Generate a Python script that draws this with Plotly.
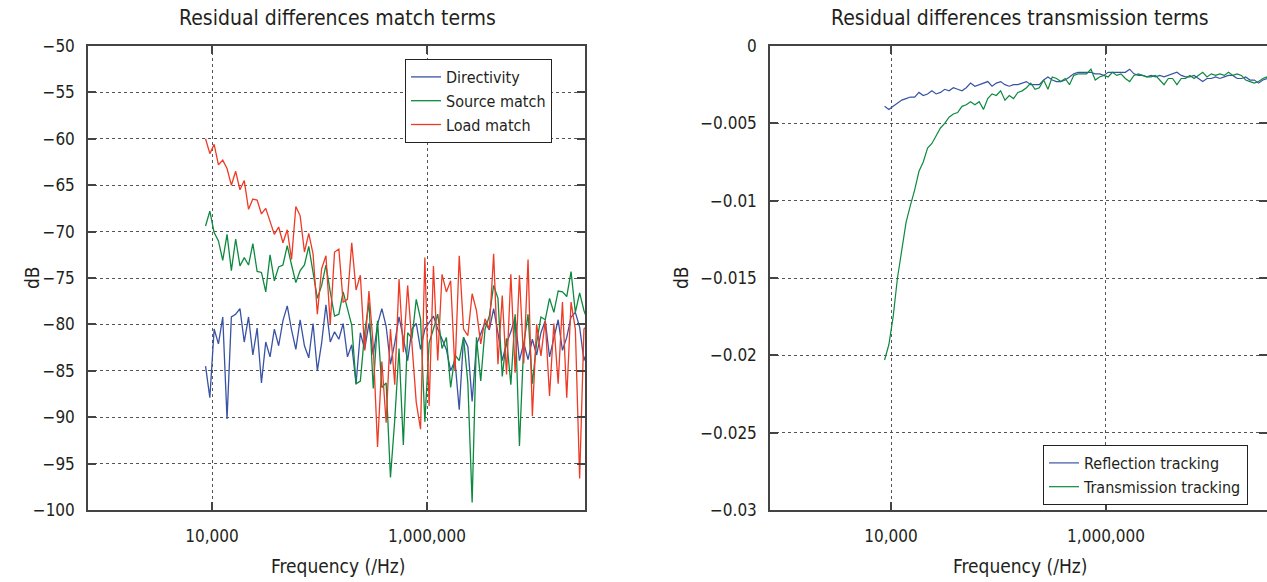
import plotly.graph_objects as go

# Frequencies (Hz), shared by all traces
freq = [8710, 9550, 10470, 11480, 12590, 13800, 15140, 16600, 18200, 19950,
        21880, 23990, 26300, 28840, 31620, 34670, 38020, 41690, 45710, 50120,
        54950, 60260, 66070, 72440, 79430, 87100, 95500, 104700, 114800, 125900,
        138000, 151400, 166000, 182000, 199500, 218800, 239900, 263000, 288400, 316200,
        346700, 380200, 416900, 457100, 501200, 549500, 602600, 660700, 724400, 794300,
        871000, 955000, 1047000, 1148000, 1259000, 1380000, 1514000, 1660000, 1820000, 1995000,
        2188000, 2399000, 2630000, 2884000, 3162000, 3467000, 3802000, 4169000, 4571000, 5012000,
        5495000, 6026000, 6607000, 7244000, 7943000, 8710000, 9550000, 10470000, 11480000, 12590000,
        13800000, 15140000, 16600000, 18200000, 19950000, 21880000, 23990000, 26300000, 28840000, 31620000]

directivity = [-84.5, -87.9, -80.5, -82.1, -79.2, -90.2, -79.2, -78.9, -78.3, -81.9,
               -79.2, -83.3, -80.4, -86.3, -81.9, -83.5, -80.5, -82.3, -79.6, -78.0,
               -80.6, -82.7, -79.5, -82.3, -83.6, -79.9, -85.0, -82.0, -77.9, -81.9,
               -80.8, -81.6, -79.9, -83.5, -82.2, -86.4, -80.9, -82.7, -79.9, -83.3,
               -80.0, -78.3, -80.2, -84.3, -82.0, -79.2, -81.5, -83.9, -80.5, -79.9,
               -82.7, -80.5, -79.8, -79.1, -80.5, -81.5, -82.7, -85.0, -83.9, -89.2,
               -81.4, -82.4, -88.3, -82.2, -81.0, -79.8, -80.6, -78.3, -80.9, -83.9,
               -82.0, -80.8, -79.2, -83.9, -82.0, -83.8, -81.6, -83.3, -80.9, -79.6,
               -83.5, -81.4, -79.5, -82.8, -81.4, -79.2, -78.7, -80.3, -83.9, -82.5]

source_match = [-69.4, -67.8, -70.1, -71.0, -73.1, -70.3, -74.2, -70.8, -73.7, -72.8,
                -73.6, -71.3, -74.3, -74.4, -76.5, -72.5, -75.3, -73.8, -73.6, -71.5,
                -73.6, -75.5, -74.2, -73.6, -71.6, -74.5, -77.2, -75.8, -73.6, -76.5,
                -79.1, -78.9, -76.5, -78.3, -80.1, -86.4, -86.1, -80.9, -77.6, -86.9,
                -79.6, -86.8, -86.3, -96.5, -90.3, -82.6, -93.0, -80.9, -81.5, -77.3,
                -79.4, -90.5, -82.0, -80.5, -78.9, -82.6, -81.4, -86.8, -83.3, -83.9,
                -81.4, -86.3, -99.2, -81.4, -86.1, -80.5, -79.1, -75.8, -77.2, -85.6,
                -81.5, -86.5, -78.9, -93.1, -82.1, -78.9, -86.4, -82.0, -79.2, -79.5,
                -77.2, -78.7, -76.4, -76.5, -77.0, -74.3, -78.7, -76.6, -78.5, -79.8]

load_match = [-60.0, -61.6, -60.6, -62.8, -62.3, -63.2, -65.0, -63.5, -65.5, -64.5,
              -67.6, -66.5, -66.6, -68.1, -67.5, -69.0, -70.3, -69.5, -71.2, -69.8,
              -73.0, -67.3, -68.3, -72.2, -70.2, -72.4, -78.9, -74.0, -72.6, -80.0,
              -72.2, -71.9, -77.6, -77.3, -71.2, -76.3, -74.7, -82.8, -76.4, -82.3,
              -93.2, -84.0, -90.6, -80.5, -86.5, -75.1, -83.0, -75.8, -81.9, -88.4,
              -91.3, -72.8, -88.8, -73.7, -83.9, -74.6, -76.5, -75.3, -85.0, -72.6,
              -80.5, -81.2, -76.7, -78.5, -82.1, -79.4, -80.5, -72.4, -84.3, -76.9,
              -85.4, -74.6, -85.2, -74.7, -84.2, -73.0, -89.9, -80.0, -83.4, -79.6,
              -87.7, -79.9, -86.4, -77.6, -87.9, -77.6, -80.5, -96.6, -80.5, -80.0]

reflection_tracking = [-0.0039, -0.0041, -0.0039, -0.0037, -0.0035, -0.0034, -0.0033, -0.0033, -0.0030, -0.0032,
                       -0.0031, -0.0029, -0.0031, -0.0030, -0.0028, -0.0029, -0.0027, -0.0028, -0.0029, -0.0027,
                       -0.0024, -0.0026, -0.0025, -0.0024, -0.0023, -0.0026, -0.0024, -0.0023, -0.0025, -0.0026,
                       -0.0025, -0.0025, -0.0024, -0.0023, -0.0025, -0.0025, -0.0025, -0.0022, -0.0020, -0.0022,
                       -0.0023, -0.0023, -0.0022, -0.0020, -0.0018, -0.0017, -0.0017, -0.0017, -0.0017, -0.0018,
                       -0.0018, -0.0019, -0.0017, -0.0017, -0.0017, -0.0017, -0.0017, -0.0015, -0.0018, -0.0019,
                       -0.0019, -0.0020, -0.0019, -0.0020, -0.0019, -0.0020, -0.0019, -0.0018, -0.0017, -0.0019,
                       -0.0020, -0.0020, -0.0019, -0.0021, -0.0023, -0.0021, -0.0021, -0.0020, -0.0021, -0.0020,
                       -0.0019, -0.0019, -0.0021, -0.0021, -0.0020, -0.0022, -0.0022, -0.0024, -0.0022, -0.0021]

transmission_tracking = [-0.0203, -0.0193, -0.0175, -0.0150, -0.0132, -0.0114, -0.0103, -0.0093, -0.0081, -0.0075,
                         -0.0066, -0.0063, -0.0058, -0.0053, -0.0050, -0.0046, -0.0044, -0.0043, -0.0039, -0.0038,
                         -0.0036, -0.0038, -0.0036, -0.0041, -0.0034, -0.0031, -0.0032, -0.0029, -0.0035, -0.0032,
                         -0.0034, -0.0030, -0.0029, -0.0027, -0.0024, -0.0028, -0.0027, -0.0022, -0.0028, -0.0020,
                         -0.0021, -0.0023, -0.0021, -0.0025, -0.0019, -0.0018, -0.0018, -0.0018, -0.0015, -0.0022,
                         -0.0020, -0.0019, -0.0020, -0.0017, -0.0019, -0.0018, -0.0021, -0.0023, -0.0019, -0.0018,
                         -0.0019, -0.0020, -0.0020, -0.0019, -0.0022, -0.0025, -0.0021, -0.0021, -0.0025, -0.0021,
                         -0.0021, -0.0019, -0.0021, -0.0019, -0.0017, -0.0020, -0.0018, -0.0019, -0.0018, -0.0019,
                         -0.0017, -0.0019, -0.0018, -0.0019, -0.0022, -0.0023, -0.0024, -0.0023, -0.0021, -0.0020]

left_yticks = [-50, -55, -60, -65, -70, -75, -80, -85, -90, -95, -100]
left_yticktext = ["\u221250", "\u221255", "\u221260", "\u221265", "\u221270", "\u221275",
                  "\u221280", "\u221285", "\u221290", "\u221295", "\u2212100"]
right_yticks = [0, -0.005, -0.01, -0.015, -0.02, -0.025, -0.03]
right_yticktext = ["0", "\u22120.005", "\u22120.01", "\u22120.015", "\u22120.02", "\u22120.025", "\u22120.03"]
xticks = [1e4, 1e6]
xticktext = ["10,000", "1,000,000"]

BLUE = "#3953a4"
GREEN = "#0d8a3f"
RED = "#ef3a25"
TXT = "#231f20"
FONT = "DejaVu Sans Condensed, DejaVu Sans, sans-serif"
W, H = 1267, 582

fig = go.Figure()
fig.add_trace(go.Scatter(x=freq, y=directivity, name="Directivity", mode="lines",
                         line=dict(color=BLUE, width=1.3), xaxis="x", yaxis="y", legend="legend"))
fig.add_trace(go.Scatter(x=freq, y=source_match, name="Source match", mode="lines",
                         line=dict(color=GREEN, width=1.3), xaxis="x", yaxis="y", legend="legend"))
fig.add_trace(go.Scatter(x=freq, y=load_match, name="Load match", mode="lines",
                         line=dict(color=RED, width=1.3), xaxis="x", yaxis="y", legend="legend"))
fig.add_trace(go.Scatter(x=freq, y=reflection_tracking, name="Reflection tracking", mode="lines",
                         line=dict(color=BLUE, width=1.2), xaxis="x2", yaxis="y2", legend="legend2"))
fig.add_trace(go.Scatter(x=freq, y=transmission_tracking, name="Transmission tracking", mode="lines",
                         line=dict(color=GREEN, width=1.2), xaxis="x2", yaxis="y2", legend="legend2"))

ydom = [(H - 510) / H, (H - 46) / H]
axis_common = dict(showline=True, linecolor="#444", linewidth=1.5, mirror="ticks",
                   ticks="inside", ticklen=8, tickwidth=1.5, tickcolor="#444",
                   showgrid=True, gridcolor="#555", griddash="dot", gridwidth=1,
                   zeroline=False, automargin=False,
                   tickfont=dict(size=17, color=TXT, family=FONT))

fig.update_layout(
    width=W, height=H,
    margin=dict(l=0, r=0, t=0, b=0, autoexpand=False),
    paper_bgcolor="white", plot_bgcolor="white",
    font=dict(family=FONT, color=TXT),
    showlegend=True,
    xaxis=dict(type="log", range=[2.8465, 7.4698], domain=[88 / W, 585 / W],
               tickvals=xticks, ticktext=xticktext, ticklabelstandoff=10, anchor="y", **axis_common),
    yaxis=dict(range=[-100, -50], domain=ydom, tickvals=left_yticks, ticktext=left_yticktext,
               ticklabelstandoff=8, anchor="x", **axis_common),
    xaxis2=dict(type="log", range=[2.874, 7.498], domain=[770 / W, 1.0],
                tickvals=xticks, ticktext=xticktext, ticklabelstandoff=10, anchor="y2", **axis_common),
    yaxis2=dict(range=[-0.03, 0], domain=ydom, tickvals=right_yticks, ticktext=right_yticktext,
                ticklabelstandoff=8, anchor="x2", **axis_common),
    legend=dict(x=552 / W, y=(H - 59) / H, xanchor="right", yanchor="top",
                bordercolor="#222", borderwidth=1, bgcolor="white",
                font=dict(size=16, family=FONT, color=TXT), itemwidth=30,
                tracegroupgap=0),
    legend2=dict(x=1248 / W, y=(H - 445) / H, xanchor="right", yanchor="top",
                 bordercolor="#222", borderwidth=1, bgcolor="white",
                 font=dict(size=16, family=FONT, color=TXT), itemwidth=30,
                 tracegroupgap=0),
    annotations=[
        dict(text="Residual differences match terms", x=337 / W, y=(H - 18) / H, xref="paper", yref="paper",
             showarrow=False, font=dict(size=21, family=FONT, color=TXT), xanchor="center", yanchor="middle"),
        dict(text="Residual differences transmission terms", x=1020 / W, y=(H - 18) / H, xref="paper", yref="paper",
             showarrow=False, font=dict(size=21, family=FONT, color=TXT), xanchor="center", yanchor="middle"),
        dict(text="dB", x=32 / W, y=(H - 278) / H, xref="paper", yref="paper", textangle=-90,
             showarrow=False, font=dict(size=19, family=FONT, color=TXT), xanchor="center", yanchor="middle"),
        dict(text="dB", x=681 / W, y=(H - 278) / H, xref="paper", yref="paper", textangle=-90,
             showarrow=False, font=dict(size=19, family=FONT, color=TXT), xanchor="center", yanchor="middle"),
        dict(text="Frequency (/Hz)", x=338 / W, y=(H - 566) / H, xref="paper", yref="paper",
             showarrow=False, font=dict(size=19, family=FONT, color=TXT), xanchor="center", yanchor="middle"),
        dict(text="Frequency (/Hz)", x=1020 / W, y=(H - 566) / H, xref="paper", yref="paper",
             showarrow=False, font=dict(size=19, family=FONT, color=TXT), xanchor="center", yanchor="middle"),
    ],
)

fig.write_html("out.html")
